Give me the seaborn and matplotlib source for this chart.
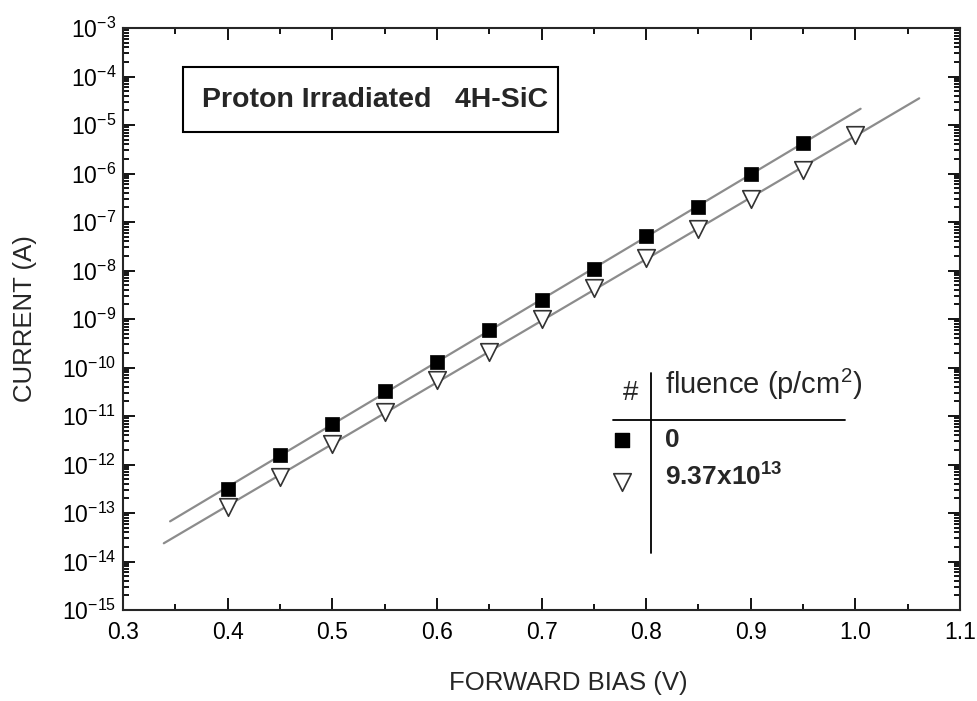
import numpy as np
import pandas as pd
import matplotlib
matplotlib.use("Agg")
import matplotlib.pyplot as plt
import matplotlib.ticker as mticker
from matplotlib.patches import Rectangle
import seaborn as sns

# forward I-V, unirradiated diode (filled squares)
bias_0 = [0.40, 0.45, 0.50, 0.55, 0.60, 0.65, 0.70, 0.75, 0.80, 0.85, 0.90, 0.95]
current_0 = [3.1e-13, 1.6e-12, 6.8e-12, 3.3e-11, 1.3e-10, 5.8e-10,
             2.45e-9, 1.07e-8, 5.1e-8, 2.0e-7, 1.0e-6, 4.3e-6]

# after 9.37e13 p/cm^2 (open triangles)
bias_irr = [0.40, 0.45, 0.50, 0.55, 0.60, 0.65, 0.70, 0.75, 0.80, 0.85, 0.90, 0.95, 1.00]
current_irr = [1.33e-13, 5.5e-13, 2.6e-12, 1.2e-11, 5.5e-11, 2.1e-10,
               1.0e-9, 4.4e-9, 1.8e-8, 7.2e-8, 3.0e-7, 1.2e-6, 6.2e-6]

# span of the exponential fit lines
fit_span_0 = (0.345, 1.005)
fit_span_irr = (0.339, 1.061)

fluence_labels = ["0", r"9.37x10$^{\mathbf{13}}$"]

sns.set_style("ticks")
plt.rcParams["font.family"] = ["Liberation Sans", "DejaVu Sans"]
plt.rcParams["mathtext.fontset"] = "custom"
plt.rcParams["mathtext.rm"] = "Liberation Sans"
plt.rcParams["mathtext.it"] = "Liberation Sans:italic"
plt.rcParams["mathtext.bf"] = "Liberation Sans:bold"
plt.rcParams["axes.unicode_minus"] = False


def fit_line(x, y, span):
    k, b = np.polyfit(x, np.log10(y), 1)
    xs = np.array(span)
    return pd.DataFrame({"bias": xs, "current": 10 ** (k * xs + b)})


df0 = pd.DataFrame({"bias": bias_0, "current": current_0})
dfi = pd.DataFrame({"bias": bias_irr, "current": current_irr})

fig = plt.figure(figsize=(9.77, 7.01), dpi=100)
ax = fig.add_axes([0.1259, 0.1298, 0.8567, 0.8302])

line_col = "#8c8c8c"
sns.lineplot(data=fit_line(bias_0, current_0, fit_span_0), x="bias", y="current",
             ax=ax, color=line_col, lw=1.6, zorder=2)
sns.lineplot(data=fit_line(bias_irr, current_irr, fit_span_irr), x="bias", y="current",
             ax=ax, color=line_col, lw=1.6, zorder=2)
sns.scatterplot(data=df0, x="bias", y="current", ax=ax, marker="s", s=110,
                color="black", edgecolor="black", linewidth=0.5, zorder=3)
sns.scatterplot(data=dfi, x="bias", y="current", ax=ax, marker="v", s=160,
                color="white", edgecolor="#333333", linewidth=1.2, zorder=3)

ax.set_yscale("log")
ax.set_xlim(0.3, 1.1)
ax.set_ylim(1e-15, 1e-3)
ax.xaxis.set_major_locator(mticker.MultipleLocator(0.1))
ax.xaxis.set_minor_locator(mticker.MultipleLocator(0.05))
ax.xaxis.set_major_formatter(mticker.FormatStrFormatter("%.1f"))
ax.yaxis.set_major_locator(mticker.LogLocator(base=10, numticks=100))
ax.yaxis.set_minor_locator(mticker.LogLocator(base=10, subs=np.arange(2, 10), numticks=100))
ax.yaxis.set_minor_formatter(mticker.NullFormatter())

ax.tick_params(which="both", direction="in", top=True, right=True, width=1.3,
               labelsize=16.5, colors="black")
ax.tick_params(which="major", length=8.5)
ax.tick_params(which="minor", length=4.5)
ax.tick_params(axis="x", pad=8)
ax.tick_params(axis="y", pad=5)
for sp in ax.spines.values():
    sp.set_linewidth(1.5)
    sp.set_visible(True)

ax.set_xlabel("FORWARD BIAS (V)", fontsize=18.5)
ax.set_ylabel("CURRENT (A)", fontsize=18.5)
ax.xaxis.set_label_coords(0.532, -0.104)
ax.yaxis.set_label_coords(-0.103, 0.5)

# title box
ax.add_patch(Rectangle((0.0717, 0.821), 0.448, 0.112, transform=ax.transAxes,
                       fill=False, edgecolor="black", lw=1.5, zorder=4))
ax.text(0.301, 0.877, "Proton Irradiated   4H-SiC", transform=ax.transAxes,
        ha="center", va="center", fontsize=20.5, fontweight="bold")

# legend table
ax.text(0.606, 0.373, "#", transform=ax.transAxes, ha="center", va="center", fontsize=20)
ax.text(0.648, 0.387, r"fluence (p/cm$^2$)", transform=ax.transAxes,
        ha="left", va="center", fontsize=21)
ax.plot([0.631, 0.631], [0.098, 0.407], transform=ax.transAxes, color="black", lw=1.3)
ax.plot([0.585, 0.863], [0.326, 0.326], transform=ax.transAxes, color="black", lw=1.3)
ax.scatter([0.596], [0.292], transform=ax.transAxes, marker="s", s=110, color="black")
ax.scatter([0.596], [0.220], transform=ax.transAxes, marker="v", s=160,
           color="white", edgecolor="#333333", linewidth=1.2)
ax.text(0.648, 0.292, fluence_labels[0], transform=ax.transAxes,
        ha="left", va="center", fontsize=19, fontweight="bold")
ax.text(0.648, 0.229, fluence_labels[1], transform=ax.transAxes,
        ha="left", va="center", fontsize=19, fontweight="bold")

fig.savefig("out.png", dpi=100)
